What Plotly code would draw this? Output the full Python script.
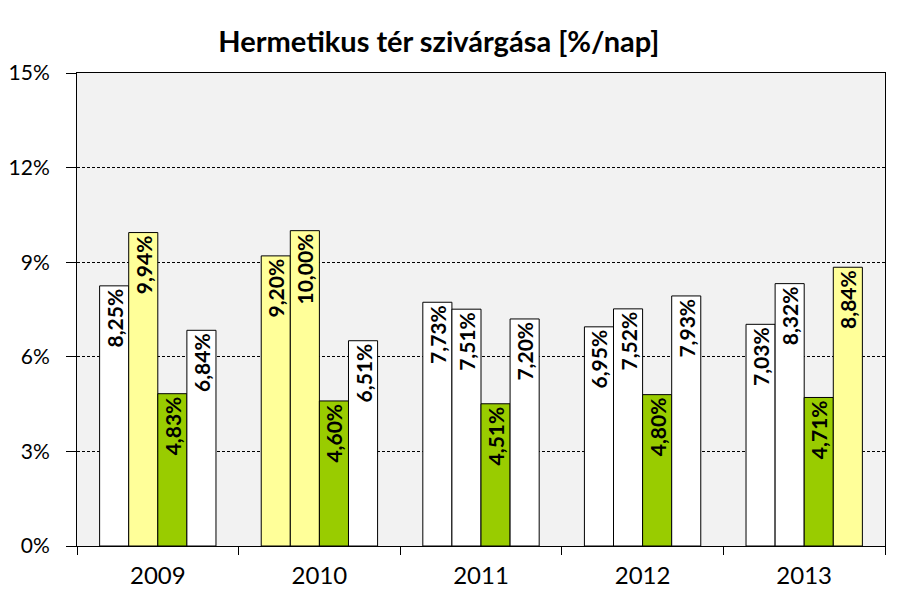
import plotly.graph_objects as go

years = ["2009", "2010", "2011", "2012", "2013"]
s1 = [8.25, 9.20, 7.73, 6.95, 7.03]
s2 = [9.94, 10.00, 7.51, 7.52, 8.32]
s3 = [4.83, 4.60, 4.51, 4.80, 4.71]
s4 = [6.84, 6.51, 7.20, 7.93, 8.84]

W, Y, G = "#FFFFFF", "#FFFF99", "#99CC00"
c1 = [W, Y, W, W, W]
c2 = [Y, Y, W, W, W]
c3 = [G, G, G, G, G]
c4 = [W, W, W, W, Y]

yticks = [0, 3, 6, 9, 12, 15]
ytick_text = ["0%", "3%", "6%", "9%", "12%", "15%"]

FONT = "Lato, 'Liberation Sans', sans-serif"

def lab(vals):
    return [f"{v:.2f}".replace(".", ",") + "%" for v in vals]

fig = go.Figure()
for vals, cols in [(s1, c1), (s2, c2), (s3, c3), (s4, c4)]:
    fig.add_trace(go.Bar(
        x=years, y=vals, marker=dict(color=cols, line=dict(color="black", width=1)),
        text=lab(vals), textposition="inside", insidetextanchor="end",
        textangle=-90, textfont=dict(family=FONT, size=21, color="black", weight="bold"),
        cliponaxis=False, showlegend=False, hoverinfo="skip",
    ))

fig.update_layout(
    width=892, height=604,
    margin=dict(l=69, r=15, t=65, b=66),
    paper_bgcolor="white", plot_bgcolor="#F2F2F2",
    barmode="group", bargap=0.28, bargroupgap=0,
    uniformtext=dict(minsize=21, mode="show"),
    title=dict(text="<b>Hermetikus tér szivárgása [%/nap]</b>", x=0.483, xanchor="center",
               y=0.944, yanchor="middle", font=dict(family=FONT, size=29, color="black")),
    font=dict(family=FONT, color="black"),
)
fig.update_xaxes(
    type="category", showline=True, linecolor="black", linewidth=1, mirror=True,
    ticks="outside", tickson="boundaries", ticklen=8, tickcolor="black",
    tickfont=dict(family=FONT, size=24, color="black"), showgrid=False,
    ticklabelstandoff=8, automargin=False,
)
fig.update_yaxes(
    range=[0, 15], tickvals=yticks, ticktext=ytick_text,
    showline=True, linecolor="black", linewidth=1, mirror=True,
    ticks="outside", ticklen=10, tickcolor="black",
    tickfont=dict(family=FONT, size=21, color="black"),
    showgrid=True, gridcolor="black", griddash="3px,2px", gridwidth=1,
    zeroline=False, ticklabelstandoff=12, automargin=False,
)
fig.write_html("out.html")
